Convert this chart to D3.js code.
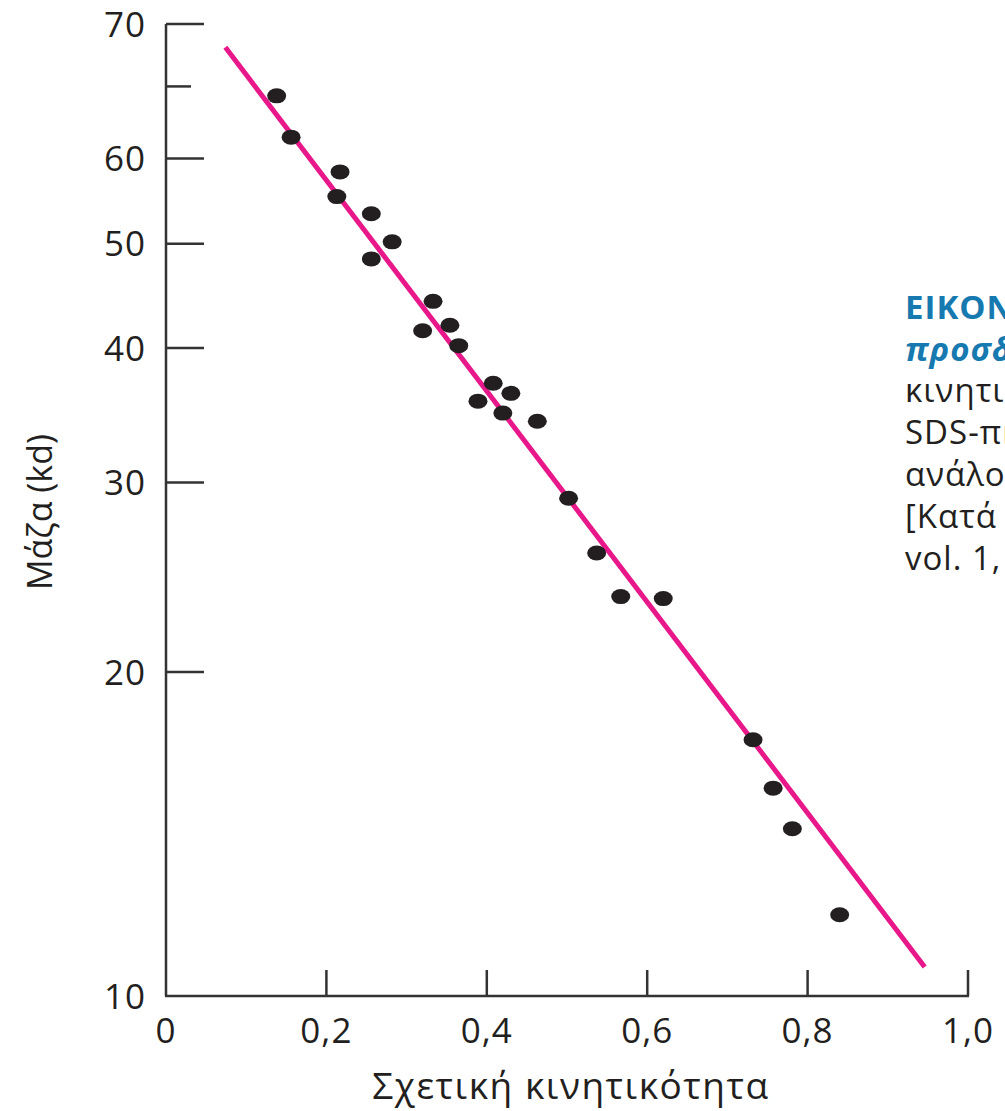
<!DOCTYPE html>
<html>
<head>
<meta charset="utf-8">
<script src="https://cdn.jsdelivr.net/npm/d3@7"></script>
<style>
  body { margin: 0; background: #fff; overflow: hidden; }
  text { font-family: "Open Sans", "DejaVu Sans", sans-serif; fill: #231f20; }
</style>
</head>
<body>
<div id="chart"></div>
<script>
// relative mobility (x) and mass in kd (y) of the marker proteins
const mobility = [0.138, 0.156, 0.217, 0.213, 0.256, 0.282, 0.256, 0.333, 0.354, 0.320, 0.365, 0.408,
                  0.430, 0.389, 0.420, 0.463, 0.502, 0.537, 0.567, 0.620, 0.732, 0.757, 0.781, 0.840]
const mass = [68.6, 62.8, 58.3, 55.3, 53.3, 50.2, 48.4, 44.2, 42.0, 41.5, 40.2, 37.1,
              36.3, 35.7, 34.8, 34.2, 29.0, 25.8, 23.5, 23.4, 17.3, 15.6, 14.3, 11.9]

// fitted line, two end points
const fitX = [0.074, 0.946]
const fitY = [76.1, 10.64]

const xTicks = [0, 0.2, 0.4, 0.6, 0.8, 1.0]
const xTickLabels = ["0", "0,2", "0,4", "0,6", "0,8", "1,0"]
const yTicks = [10, 20, 30, 40, 50, 60, 80]
const yTickLabels = ["10", "20", "30", "40", "50", "60", "70"]
const yMinorTicks = [70]

const captionLines = ["ΕΙΚΟΝΑ", "προσδ", "κινητικ", "SDS-πη", "ανάλογ", "[Κατά", "vol. 1,"]

const width = 1005, height = 1111

const svg = d3.select("#chart")
  .append("svg")
    .attr("width", width)
    .attr("height", height)

const x = d3.scaleLinear().domain([0, 1]).range([166, 968])
const y = d3.scaleLog().domain([10, 80]).range([996, 24])

// axes: ticks point inward, drawn as plain lines
const axisColor = "#333"

svg.append("line")
  .attr("x1", x(0)).attr("x2", x(0))
  .attr("y1", y(10)).attr("y2", y(80))
  .attr("stroke", axisColor).attr("stroke-width", 2.5)
svg.append("line")
  .attr("x1", x(0) - 1).attr("x2", x(1) + 1)
  .attr("y1", y(10)).attr("y2", y(10))
  .attr("stroke", axisColor).attr("stroke-width", 2.5)

svg.selectAll("yTicks")
  .data(yTicks.filter(d => d != 10))
  .join("line")
    .attr("x1", x(0)).attr("x2", x(0) + 38)
    .attr("y1", d => y(d)).attr("y2", d => y(d))
    .attr("stroke", axisColor).attr("stroke-width", 2.5)

svg.selectAll("yMinor")
  .data(yMinorTicks)
  .join("line")
    .attr("x1", x(0)).attr("x2", x(0) + 25)
    .attr("y1", d => y(d)).attr("y2", d => y(d))
    .attr("stroke", axisColor).attr("stroke-width", 2.5)

svg.selectAll("xTicks")
  .data(xTicks.filter(d => d != 0))
  .join("line")
    .attr("x1", d => x(d)).attr("x2", d => x(d))
    .attr("y1", y(10)).attr("y2", y(10) - 26)
    .attr("stroke", axisColor).attr("stroke-width", 2.5)

svg.selectAll("yLabels")
  .data(yTicks)
  .join("text")
    .attr("x", 146)
    .attr("y", d => y(d))
    .attr("dy", "0.36em")
    .attr("text-anchor", "end")
    .style("font-size", "35px")
    .style("letter-spacing", "1px")
    .text((d, i) => yTickLabels[i])

svg.selectAll("xLabels")
  .data(xTicks)
  .join("text")
    .attr("x", d => x(d))
    .attr("y", 1030)
    .attr("dy", "0.36em")
    .attr("text-anchor", "middle")
    .style("font-size", "35px")
    .style("letter-spacing", "1px")
    .text((d, i) => xTickLabels[i])

// axis titles
svg.append("text")
  .attr("transform", "translate(40,512) rotate(-90)")
  .attr("dy", "0.36em")
  .attr("text-anchor", "middle")
  .style("font-size", "34px")
  .text("Μάζα (kd)")

svg.append("text")
  .attr("x", 571)
  .attr("y", 1086)
  .attr("dy", "0.36em")
  .attr("text-anchor", "middle")
  .style("font-size", "37px")
  .style("letter-spacing", "1.5px")
  .text("Σχετική κινητικότητα")

// regression line
svg.append("line")
  .attr("x1", x(fitX[0])).attr("y1", y(fitY[0]))
  .attr("x2", x(fitX[1])).attr("y2", y(fitY[1]))
  .attr("stroke", "#e8178a")
  .attr("stroke-width", 5)

// the dots
svg.selectAll("dots")
  .data(mobility)
  .join("ellipse")
    .attr("cx", d => x(d))
    .attr("cy", (d, i) => y(mass[i]))
    .attr("rx", 9.5)
    .attr("ry", 7.5)
    .attr("fill", "#231f20")

// caption, cut by the right edge as in the printed page
svg.selectAll("caption")
  .data(captionLines)
  .join("text")
    .attr("x", 905)
    .attr("y", (d, i) => 307 + i * 41.8)
    .attr("dy", "0.36em")
    .style("font-size", "33px")
    .style("letter-spacing", "1px")
    .style("font-weight", (d, i) => i < 2 ? "bold" : "normal")
    .style("font-style", (d, i) => i == 1 ? "italic" : "normal")
    .style("fill", (d, i) => i < 2 ? "#1679b0" : "#231f20")
    .text(d => d)
</script>
</body>
</html>
